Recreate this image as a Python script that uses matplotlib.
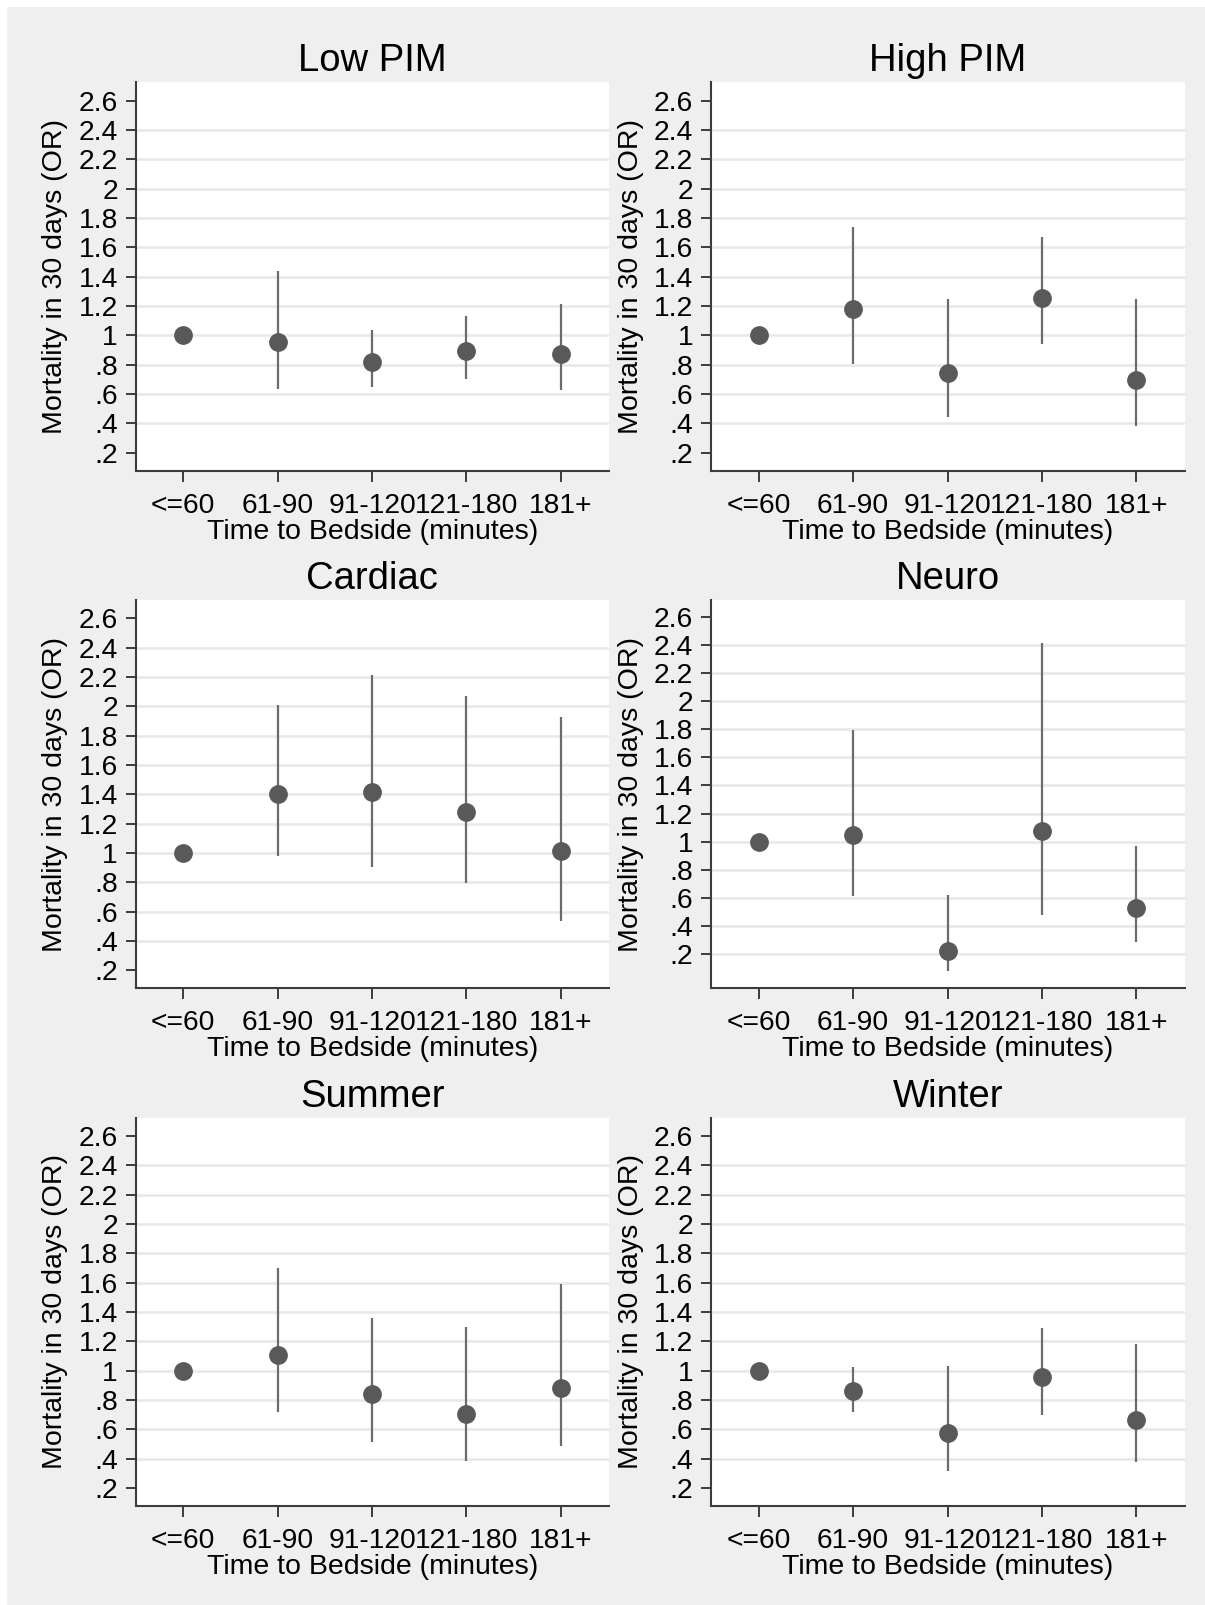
import numpy as np
import matplotlib
matplotlib.use("Agg")
from matplotlib import pyplot as plt
from matplotlib.patches import Rectangle

plt.rcParams['font.family'] = ['Liberation Sans', 'DejaVu Sans']

### data (odds ratios + 95% CI) ###

categories = ["<=60", "61-90", "91-120", "121-180", "181+"]
panel_titles = ["Low PIM", "High PIM", "Cardiac", "Neuro", "Summer", "Winter"]

low_pim_or = [1.0, 0.953, 0.818, 0.890, 0.874]
low_pim_lo = [np.nan, 0.635, 0.647, 0.700, 0.628]
low_pim_hi = [np.nan, 1.437, 1.033, 1.131, 1.215]

high_pim_or = [1.0, 1.182, 0.743, 1.253, 0.694]
high_pim_lo = [np.nan, 0.806, 0.443, 0.939, 0.382]
high_pim_hi = [np.nan, 1.739, 1.248, 1.669, 1.248]

cardiac_or = [1.0, 1.399, 1.413, 1.281, 1.016]
cardiac_lo = [np.nan, 0.980, 0.907, 0.794, 0.537]
cardiac_hi = [np.nan, 2.011, 2.215, 2.068, 1.927]

neuro_or = [1.0, 1.048, 0.221, 1.079, 0.524]
neuro_lo = [np.nan, 0.612, 0.079, 0.481, 0.283]
neuro_hi = [np.nan, 1.798, 0.619, 2.412, 0.971]

summer_or = [1.0, 1.111, 0.839, 0.707, 0.880]
summer_lo = [np.nan, 0.720, 0.516, 0.384, 0.486]
summer_hi = [np.nan, 1.702, 1.357, 1.300, 1.589]

winter_or = [1.0, 0.861, 0.573, 0.955, 0.668]
winter_lo = [np.nan, 0.720, 0.316, 0.702, 0.380]
winter_hi = [np.nan, 1.025, 1.032, 1.293, 1.184]

y_ticks = [0.2, 0.4, 0.6, 0.8, 1.0, 1.2, 1.4, 1.6, 1.8, 2.0, 2.2, 2.4, 2.6]
y_ticklabels = [".2", ".4", ".6", ".8", "1", "1.2", "1.4", "1.6", "1.8", "2", "2.2", "2.4", "2.6"]

panels = [
    (low_pim_or, low_pim_lo, low_pim_hi),
    (high_pim_or, high_pim_lo, high_pim_hi),
    (cardiac_or, cardiac_lo, cardiac_hi),
    (neuro_or, neuro_lo, neuro_hi),
    (summer_or, summer_lo, summer_hi),
    (winter_or, winter_lo, winter_hi),
]

### layout ###

W, H = 1205, 1605
fig = plt.figure(figsize=(W / 100, H / 100), dpi=100, facecolor="white")
fig.patches.append(Rectangle((7 / W, 0), 1 - 7 / W, 1 - 7 / H, transform=fig.transFigure,
                             facecolor="#efefef", edgecolor="none", zorder=-10))

col_left = [135.5, 711.0]
ax_w = 473.5
row_top = [82.3, 600.0, 1117.8]
ax_h = 388.4

marker_col = "#595959"
ci_col = "#6c6c6c"
spine_col = "#3c3c3c"
x = np.arange(1, len(categories) + 1)

for i, (est, lo, hi) in enumerate(panels):
    r, c = divmod(i, 2)
    ax = fig.add_axes([col_left[c] / W, 1 - (row_top[r] + ax_h) / H, ax_w / W, ax_h / H])
    ax.set_facecolor("white")

    ax.vlines(x, lo, hi, color=ci_col, linewidth=1.6, zorder=3)
    ax.plot(x, est, linestyle="none", marker="o", markersize=12.5,
            markerfacecolor=marker_col, markeredgecolor=marker_col, zorder=4)

    ax.set_xlim(0.495, 5.51)
    # the Neuro panel reaches further down, so Stata widened its range
    if np.nanmin(lo) < 0.2:
        ax.set_ylim(-0.045, 2.72)
    else:
        ax.set_ylim(0.077, 2.725)
    ax.set_xticks(x)
    ax.set_xticklabels(categories, fontsize=20.3)
    ax.set_yticks(y_ticks)
    ax.set_yticklabels(y_ticklabels, fontsize=20.3)

    ax.yaxis.grid(True, color="#e8e8e8", linewidth=1.8)
    ax.set_axisbelow(True)
    gl = ax.get_ygridlines()
    if np.nanmin(lo) >= 0.2:
        gl[0].set_visible(False)
    gl[-1].set_visible(False)

    for s in ["top", "right"]:
        ax.spines[s].set_visible(False)
    for s in ["left", "bottom"]:
        ax.spines[s].set_color(spine_col)
        ax.spines[s].set_linewidth(1.5)
    ax.tick_params(axis="y", length=7.2, width=1.4, color=spine_col, pad=5.5)
    ax.tick_params(axis="x", length=7.9, width=1.4, color=spine_col, pad=8)

    ax.set_title(panel_titles[i], fontsize=27.5, pad=8)
    ax.set_ylabel("Mortality in 30 days (OR)", fontsize=20.5)
    ax.yaxis.set_label_coords(-0.1415, 0.5)
    ax.set_xlabel("Time to Bedside (minutes)", fontsize=20.5)
    ax.xaxis.set_label_coords(0.5, -0.1236)

plt.savefig("out.png", dpi=100, facecolor=fig.get_facecolor())
